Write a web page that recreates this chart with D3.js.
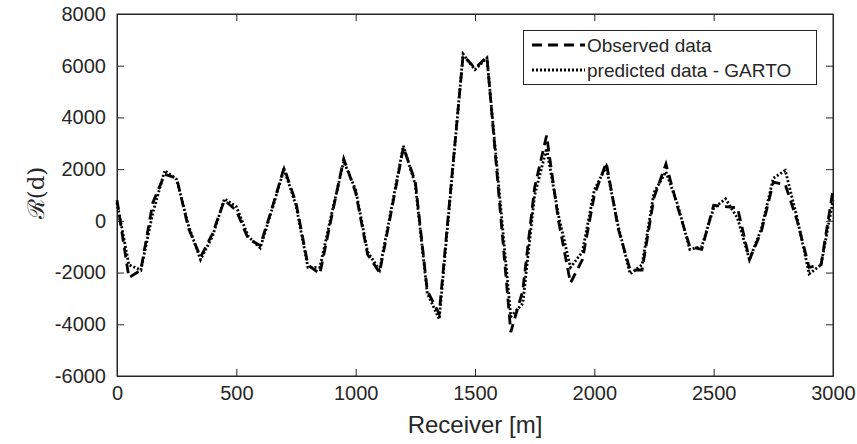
<!DOCTYPE html>
<html>
<head>
<meta charset="utf-8">
<script src="https://cdn.jsdelivr.net/npm/d3@7/dist/d3.min.js"></script>
<style>
    html, body { margin: 0; padding: 0; background: #fff; }
    svg { display: block; }
    text { font-family: "Liberation Sans", Arial, sans-serif; fill: #262626; }
</style>
</head>
<body>
<svg id="chart" width="857" height="444"></svg>
<script>
'use strict';

// receiver positions [m]
var receivers = [0, 50, 100, 150, 200, 250, 300, 350, 400, 450, 500, 550, 600, 650, 700, 750,
    800, 850, 900, 950, 1000, 1050, 1100, 1150, 1200, 1250, 1300, 1350, 1400, 1450, 1500,
    1550, 1600, 1650, 1700, 1750, 1800, 1850, 1900, 1950, 2000, 2050, 2100, 2150, 2200,
    2250, 2300, 2350, 2400, 2450, 2500, 2550, 2600, 2650, 2700, 2750, 2800, 2850, 2900,
    2950, 3000];

var observed = [800, -2200, -1900, 700, 1800, 1650, -300, -1400, -500, 800, 400, -700, -950,
    500, 2050, 700, -1700, -2050, 200, 2400, 1100, -1300, -2000, 400, 2850, 1500, -2700,
    -3600, 1400, 6400, 5900, 6350, 1000, -4300, -2700, 1300, 3300, 0, -2400, -1500, 1000,
    2250, -300, -1900, -1900, 900, 2200, 500, -1000, -1100, 600, 550, 500, -1500, -400,
    1500, 1400, 0, -1800, -1700, 1200];

var predicted = [700, -1700, -1900, 300, 1950, 1600, -200, -1500, -600, 850, 550, -600, -1050,
    450, 2000, 600, -1800, -1800, 300, 2300, 1200, -1200, -1900, 500, 2900, 1400, -2800,
    -3800, 1300, 6450, 5850, 6300, 1300, -3700, -3200, 1000, 2800, 200, -1800, -1200, 1200,
    2100, -200, -2050, -1700, 1100, 1900, 600, -1100, -1000, 500, 850, 100, -1500, -300,
    1650, 1950, 100, -2050, -1700, 800];

var xTicks = [0, 500, 1000, 1500, 2000, 2500, 3000];
var yTicks = [-6000, -4000, -2000, 0, 2000, 4000, 6000, 8000];

var seriesNames = ["Observed data", "predicted data - GARTO"];

var plotLeft = 117, plotRight = 833, plotTop = 14, plotBottom = 376;
var axisColor = "#262626";

var svg = d3.select("#chart");

var x = d3.scaleLinear().domain([0, 3000]).range([plotLeft, plotRight]);
var y = d3.scaleLinear().domain([-6000, 8000]).range([plotBottom, plotTop]);

// plain hyphen for negatives, like the original
function tickLabel(d) {
    return String(d);
}

// ticks pointing inward on all four sides (matlab box style)
function drawAxes() {
    var g = svg.append("g").attr("class", "axes");

    g.append("g")
        .attr("transform", "translate(0," + plotBottom + ")")
        .call(d3.axisBottom(x).tickValues(xTicks).tickSizeInner(-7).tickSizeOuter(0)
            .tickPadding(10).tickFormat(tickLabel));

    g.append("g")
        .attr("transform", "translate(0," + plotTop + ")")
        .call(d3.axisTop(x).tickValues(xTicks).tickSizeInner(-7).tickSizeOuter(0)
            .tickFormat(""));

    g.append("g")
        .attr("transform", "translate(" + plotLeft + ",0)")
        .call(d3.axisLeft(y).tickValues(yTicks).tickSizeInner(-7).tickSizeOuter(0)
            .tickPadding(11).tickFormat(tickLabel));

    g.append("g")
        .attr("transform", "translate(" + plotRight + ",0)")
        .call(d3.axisRight(y).tickValues(yTicks).tickSizeInner(-7).tickSizeOuter(0)
            .tickFormat(""));

    g.selectAll(".domain").attr("stroke", axisColor).attr("stroke-width", 1);
    g.selectAll(".tick line").attr("stroke", axisColor).attr("stroke-width", 1);
    g.selectAll(".tick text")
        .attr("font-size", "20px")
        .attr("fill", axisColor)
        .style("font-family", "'Liberation Sans', Arial, sans-serif");

    // close the box
    g.append("rect")
        .attr("x", plotLeft).attr("y", plotTop)
        .attr("width", plotRight - plotLeft).attr("height", plotBottom - plotTop)
        .attr("fill", "none")
        .attr("stroke", axisColor)
        .attr("stroke-width", 1);

    svg.append("text")
        .attr("x", (plotLeft + plotRight) / 2)
        .attr("y", 433)
        .attr("text-anchor", "middle")
        .attr("font-size", "24px")
        .text("Receiver [m]");

    var yl = svg.append("text")
        .attr("transform", "translate(44," + ((plotTop + plotBottom) / 2 - 2) + ") rotate(-90)")
        .attr("text-anchor", "middle")
        .attr("font-size", "23px")
        .style("font-family", "'DejaVu Serif', 'Liberation Serif', serif");
    yl.append("tspan").text("\u211B");
    yl.append("tspan").text("(d)");
}

function drawSeries(values, dash) {
    var line = d3.line()
        .x(function (d, i) { return x(receivers[i]); })
        .y(function (d) { return y(d); });

    svg.append("path")
        .datum(values)
        .attr("d", line)
        .attr("fill", "none")
        .attr("stroke", "#000")
        .attr("stroke-width", 2.8)
        .attr("stroke-dasharray", dash);
}

function drawLegend() {
    var g = svg.append("g").attr("class", "legend");

    g.append("rect")
        .attr("x", 523.5).attr("y", 30.5)
        .attr("width", 293).attr("height", 54)
        .attr("fill", "#fff")
        .attr("stroke", axisColor)
        .attr("stroke-width", 1);

    var dashes = ["10,6", "2,2"];
    var rowY = [45, 70];

    seriesNames.forEach(function (name, i) {
        g.append("line")
            .attr("x1", 532).attr("x2", 585)
            .attr("y1", rowY[i]).attr("y2", rowY[i])
            .attr("stroke", "#000")
            .attr("stroke-width", 2.8)
            .attr("stroke-dasharray", dashes[i]);

        g.append("text")
            .attr("x", 587)
            .attr("y", rowY[i] + 7)
            .attr("font-size", "19px")
            .attr("fill", "#000")
            .text(name);
    });
}

drawAxes();
drawSeries(observed, "10,6");
drawSeries(predicted, "2,2");
drawLegend();
</script>
</body>
</html>
